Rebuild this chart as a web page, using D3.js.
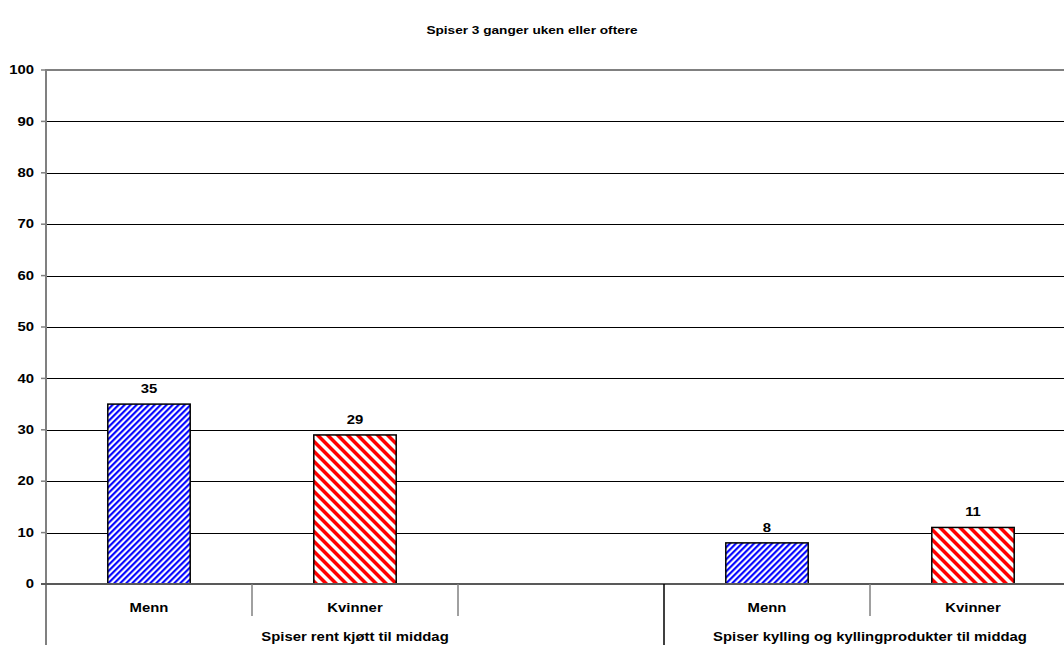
<!DOCTYPE html>
<html>
<head>
<meta charset="utf-8">
<script src="https://cdn.jsdelivr.net/npm/d3@7"></script>
<style>
  html, body { margin: 0; padding: 0; background: #fff; overflow: hidden; }
  svg { display: block; font-family: "Liberation Sans", Arial, sans-serif; }
</style>
</head>
<body>
<script>
// Chart data
const title = "Spiser 3 ganger uken eller oftere";
const groups = ["Spiser rent kjøtt til middag", "Spiser kylling og kyllingprodukter til middag"];
const groupCategories = [["Menn", "Kvinner", ""], ["Menn", "Kvinner"]];
const series = ["Menn", "Kvinner"];
const valuesMenn = [35, 8];
const valuesKvinner = [29, 11];
const yTicks = [0, 10, 20, 30, 40, 50, 60, 70, 80, 90, 100];

const W = 1064, H = 645;
const margin = { left: 46, top: 70, bottom: 61 };
const plotRight = 1076; // plot area runs slightly past the canvas edge
const y0 = H - margin.bottom;
const stretch = 1.24;   // text is drawn slightly widened

const svg = d3.select("body").append("svg").attr("width", W).attr("height", H);

// Place a bold label at (x, y), widened horizontally
function label(sel, size) {
  return sel
    .attr("transform", d => `translate(${d.x},${d.y}) scale(${stretch},1)`)
    .style("font-size", size + "px").style("font-weight", "bold")
    .attr("fill", "#000");
}

// Patterns: blue fine "/" stripes, red wider "\" stripes
const defs = svg.append("defs");
function stripes(id, color, period, angle) {
  const p = defs.append("pattern")
    .attr("id", id)
    .attr("patternUnits", "userSpaceOnUse")
    .attr("width", period).attr("height", period)
    .attr("patternTransform", `rotate(${angle})`);
  p.append("rect").attr("width", period).attr("height", period).attr("fill", "#fff");
  p.append("rect").attr("width", period / 2).attr("height", period).attr("fill", color);
}
stripes("pat-menn", "#0000ff", 6 / Math.SQRT2, 45);
stripes("pat-kvinner", "#ff0000", 10 / Math.SQRT2, -45);

// Flattened slot list across both groups
const slots = [];
groupCategories.forEach((cats, gi) => cats.forEach((c, ci) => slots.push({ key: gi + "-" + ci, group: gi, label: c })));

const x = d3.scaleBand().domain(slots.map(s => s.key)).range([margin.left, plotRight]).padding(0);
const y = d3.scaleLinear().domain([0, 100]).range([y0, margin.top]);

// Gridlines
svg.append("g").selectAll("line")
  .data(yTicks.filter(t => t > 0 && t < 100))
  .join("line")
  .attr("x1", margin.left).attr("x2", plotRight)
  .attr("y1", d => Math.round(y(d)) + 0.5).attr("y2", d => Math.round(y(d)) + 0.5)
  .attr("stroke", "#000").attr("stroke-width", 1);

// Top border line at 100
svg.append("line")
  .attr("x1", margin.left).attr("x2", plotRight)
  .attr("y1", y(100)).attr("y2", y(100))
  .attr("stroke", "#808080").attr("stroke-width", 2);

// Y axis ticks and labels
svg.append("g").selectAll("line")
  .data(yTicks)
  .join("line")
  .attr("x1", margin.left - 5).attr("x2", margin.left)
  .attr("y1", d => y(d)).attr("y2", d => y(d))
  .attr("stroke", "#808080").attr("stroke-width", 1.5);
label(svg.append("g").selectAll("text")
  .data(yTicks.map(t => ({ t, x: margin.left - 12, y: y(t) })))
  .join("text")
  .attr("text-anchor", "end").attr("dy", "0.35em")
  .text(d => d.t), 12);
svg.append("line")
  .attr("x1", margin.left).attr("x2", margin.left)
  .attr("y1", y(100) - 1).attr("y2", H)
  .attr("stroke", "#808080").attr("stroke-width", 2);

// Bars
const barW = x.bandwidth() * 0.4;
const bars = [];
groups.forEach((g, gi) => {
  bars.push({ key: gi + "-0", series: "Menn", value: valuesMenn[gi] });
  bars.push({ key: gi + "-1", series: "Kvinner", value: valuesKvinner[gi] });
});
svg.append("g").selectAll("rect")
  .data(bars)
  .join("rect")
  .attr("x", d => x(d.key) + (x.bandwidth() - barW) / 2)
  .attr("y", d => y(d.value))
  .attr("width", barW)
  .attr("height", d => y0 - y(d.value))
  .attr("fill", d => d.series === "Menn" ? "url(#pat-menn)" : "url(#pat-kvinner)")
  .attr("stroke", "#000").attr("stroke-width", 1.5);

// Value labels
label(svg.append("g").selectAll("text")
  .data(bars.map(b => ({ v: b.value, x: x(b.key) + x.bandwidth() / 2, y: y(b.value) - 11 })))
  .join("text")
  .attr("text-anchor", "middle")
  .text(d => d.v), 12);

// Zero axis line
svg.append("line")
  .attr("x1", margin.left - 5).attr("x2", plotRight)
  .attr("y1", y0).attr("y2", y0)
  .attr("stroke", "#595959").attr("stroke-width", 2);

// Category separators and labels
svg.append("g").selectAll("line")
  .data(slots.slice(1).filter(s => !s.key.endsWith("-0")))
  .join("line")
  .attr("x1", d => x(d.key)).attr("x2", d => x(d.key))
  .attr("y1", y0).attr("y2", y0 + 32)
  .attr("stroke", "#808080").attr("stroke-width", 1.5);

label(svg.append("g").selectAll("text")
  .data(slots.filter(s => s.label).map(s => ({ s: s.label, x: x(s.key) + x.bandwidth() / 2, y: y0 + 28 })))
  .join("text")
  .attr("text-anchor", "middle")
  .text(d => d.s), 12);

// Group separators and labels
const groupStart = gi => x(gi + "-0");
const groupEnd = gi => x(gi + "-" + (groupCategories[gi].length - 1)) + x.bandwidth();
svg.append("g").selectAll("line")
  .data(groups.slice(1).map((g, i) => i + 1))
  .join("line")
  .attr("x1", d => groupStart(d)).attr("x2", d => groupStart(d))
  .attr("y1", y0).attr("y2", H)
  .attr("stroke", "#000").attr("stroke-width", 1.5);

label(svg.append("g").selectAll("text")
  .data(groups.map((g, i) => ({ s: g, x: (groupStart(i) + groupEnd(i)) / 2, y: y0 + 57 })))
  .join("text")
  .attr("text-anchor", "middle")
  .text(d => d.s), 12);

// Title
label(svg.append("g").selectAll("text")
  .data([{ s: title, x: 532, y: 34 }])
  .join("text")
  .attr("text-anchor", "middle")
  .text(d => d.s), 11);
</script>
</body>
</html>
